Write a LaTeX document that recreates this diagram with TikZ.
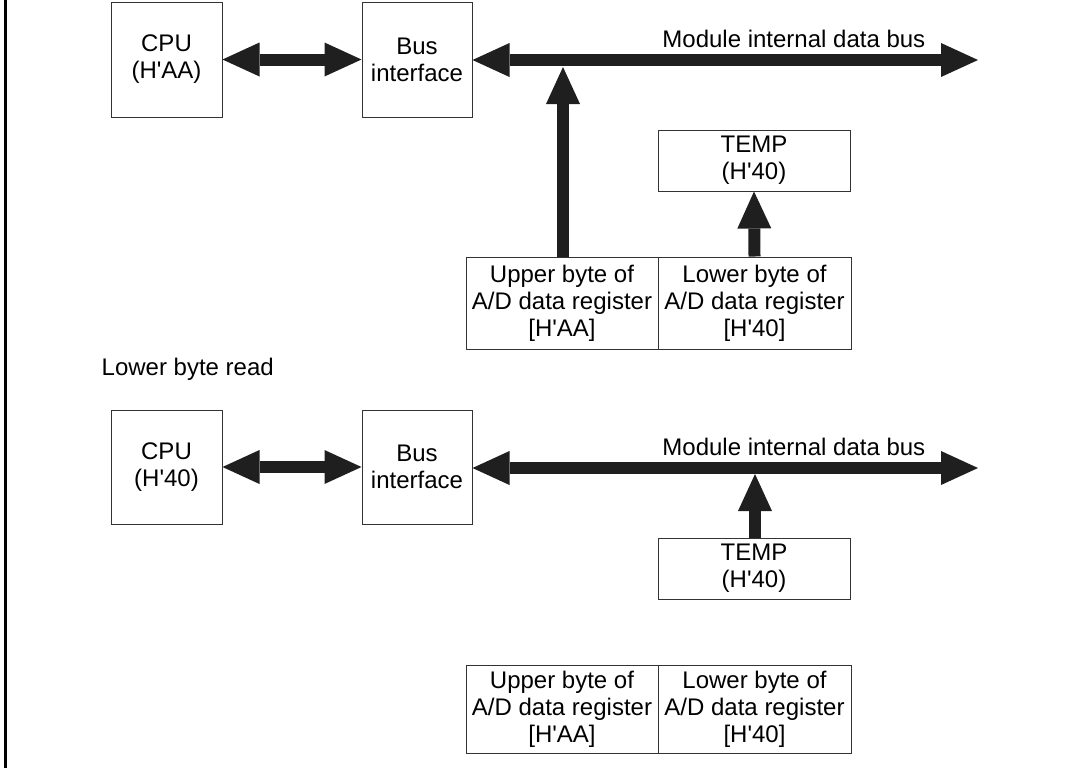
\documentclass[tikz,border=0pt]{standalone}
\usepackage{fontspec}
\setsansfont{Liberation Sans}
\usetikzlibrary{arrows.meta}
\begin{document}
\begin{tikzpicture}[x=0.75pt, y=-0.75pt, font=\sffamily\fontsize{18}{20.25}\selectfont,
    >={Triangle[length=27.75pt, width=25.5pt, line width=0pt]},
    blk/.style={draw=black!80, line width=0.75pt, inner sep=0pt, align=center},
    fatln/.style={black!88, line width=9pt}]
  \useasboundingbox (0,0) rectangle (1066,768);
  \draw[black, line width=2.25pt] (5,0) -- (5,768);
  % upper byte read
  \node[blk, minimum width=83.25pt, minimum height=86.25pt] (cpuA) at (166.5,59.5) {CPU\\(H\textquotesingle AA)};
  \node[blk, minimum width=82.5pt, minimum height=86.25pt] (busA) at (417,59.5) {Bus\\interface};
  \coordinate (endA) at (978,60);
  \coordinate (tapA) at (563,67);
  \node[anchor=base east] (lblA) at (930,47) {Module internal data bus};
  \node[blk, minimum width=144pt, minimum height=69pt] (regUA) at (562,303) {Upper byte of\\A/D data register\\{}[H\textquotesingle AA]};
  \node[blk, minimum width=144.75pt, minimum height=69pt] (regLA) at (754.5,303) {Lower byte of\\A/D data register\\{}[H\textquotesingle 40]};
  \node[blk, minimum width=144pt, minimum height=45.75pt] (tempA) at (754,160.5) {TEMP\\(H\textquotesingle 40)};
  \draw[fatln, <->] (cpuA.east) -- (busA.west);
  \draw[fatln, <->] (busA.east |- endA) -- (endA);
  \draw[fatln, ->] (regUA.north -| tapA) -- (tapA);
  \draw[fatln, ->] (regLA.north) -- (tempA.south);
  % lower byte read
  \node[anchor=base west] (title) at (97,375) {Lower byte read};
  \node[blk, minimum width=83.25pt, minimum height=85.5pt] (cpuB) at (166.5,467) {CPU\\(H\textquotesingle 40)};
  \node[blk, minimum width=82.5pt, minimum height=85.5pt] (busB) at (417,467) {Bus\\interface};
  \coordinate (endB) at (978,468);
  \coordinate (tapB) at (755,474);
  \node[anchor=base east] (lblB) at (930,455) {Module internal data bus};
  \node[blk, minimum width=144pt, minimum height=45.75pt] (tempB) at (754,568.5) {TEMP\\(H\textquotesingle 40)};
  \node[blk, minimum width=144pt, minimum height=66pt] (regUB) at (562,709) {Upper byte of\\A/D data register\\{}[H\textquotesingle AA]};
  \node[blk, minimum width=144.75pt, minimum height=66pt] (regLB) at (754.5,709) {Lower byte of\\A/D data register\\{}[H\textquotesingle 40]};
  \draw[fatln, <->] (cpuB.east) -- (busB.west);
  \draw[fatln, <->] (busB.east |- endB) -- (endB);
  \draw[fatln, ->] (tempB.north -| tapB) -- (tapB);
\end{tikzpicture}
\end{document}
